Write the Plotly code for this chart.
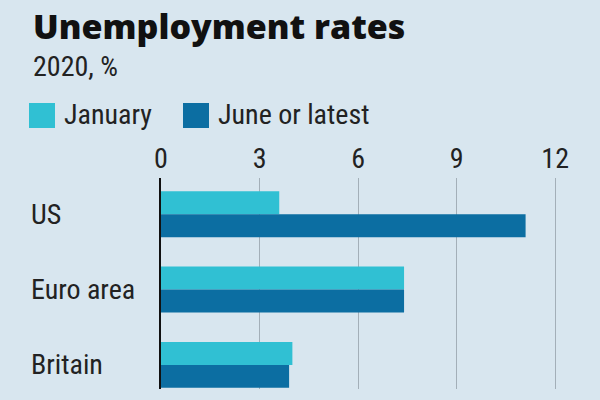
import plotly.graph_objects as go

categories = ["US", "Euro area", "Britain"]
series_names = ["January", "June or latest"]
january = [3.6, 7.4, 4.0]
june_latest = [11.1, 7.4, 3.9]
tick_vals = [0, 3, 6, 9, 12]
tick_text = ["0", "3", "6", "9", "12"]
title_text = "Unemployment rates"
subtitle_text = "2020, %"

BG = "#d8e6ef"
C_JAN = "#30c0d3"
C_JUN = "#0c6ea2"
TXT = "#222222"
NARROW = "Roboto Condensed, DejaVu Sans Condensed, sans-serif"
BOLD = "Open Sans, Liberation Sans, sans-serif"
FS = 28

W, H = 600, 400
L, R, T, B = 161, 12, 178, 11
PW, PH = W - L - R, H - T - B


def px(x):
    return (x - L) / PW


def py(y):
    return (H - B - y) / PH


fig = go.Figure()
fig.add_trace(go.Bar(y=categories, x=january, orientation="h", name=series_names[0],
                     marker=dict(color=C_JAN, line=dict(width=0)), showlegend=False))
fig.add_trace(go.Bar(y=categories, x=june_latest, orientation="h", name=series_names[1],
                     marker=dict(color=C_JUN, line=dict(width=0)), showlegend=False))

annotations = [
    dict(text=title_text, x=px(31), y=py(26), xref="paper", yref="paper",
         xanchor="left", yanchor="middle", showarrow=False,
         font=dict(family=BOLD, size=34, weight=800, color="#111111")),
    dict(text=subtitle_text, x=px(31), y=py(66), xref="paper", yref="paper",
         xanchor="left", yanchor="middle", showarrow=False,
         font=dict(family=NARROW, size=FS, color=TXT)),
]
leg_x = [29, 183]
shapes = []
for name, color, lx in zip(series_names, [C_JAN, C_JUN], leg_x):
    shapes.append(dict(type="rect", xref="paper", yref="paper", x0=px(lx), x1=px(lx + 26),
                       y0=py(128), y1=py(103), fillcolor=color, line=dict(width=0)))
    annotations.append(dict(text=name, x=px(lx + 33), y=py(115), xref="paper", yref="paper",
                            xanchor="left", yanchor="middle", showarrow=False,
                            font=dict(family=NARROW, size=FS, color=TXT)))
for c in categories:
    annotations.append(dict(text=c, x=px(29), y=c, xref="paper", yref="y",
                            xanchor="left", yanchor="middle", showarrow=False,
                            font=dict(family=NARROW, size=FS, color=TXT)))

fig.update_layout(
    width=W, height=H,
    margin=dict(l=L, r=R, t=T, b=B, pad=0),
    paper_bgcolor=BG, plot_bgcolor=BG,
    barmode="group", bargap=0.39, bargroupgap=0,
    annotations=annotations, shapes=shapes,
    showlegend=False,
    xaxis=dict(side="top", range=[0, 13], tickvals=tick_vals, ticktext=tick_text,
               showgrid=True, gridcolor="#a3afb8", gridwidth=1, zeroline=False,
               ticks="", tickfont=dict(family=NARROW, size=FS, color=TXT),
               ticklabelstandoff=3, showline=False, fixedrange=True),
    yaxis=dict(type="category", categoryorder="array", categoryarray=categories,
               range=[2.32, -0.48], showticklabels=False, showgrid=False, zeroline=False,
               showline=True, linecolor="#111111", linewidth=2, layer="above traces",
               ticks=""),
)

fig.write_html("out.html", config={"displayModeBar": False},
               post_script="document.body.style.margin='0';document.body.style.background='" + BG + "';")
